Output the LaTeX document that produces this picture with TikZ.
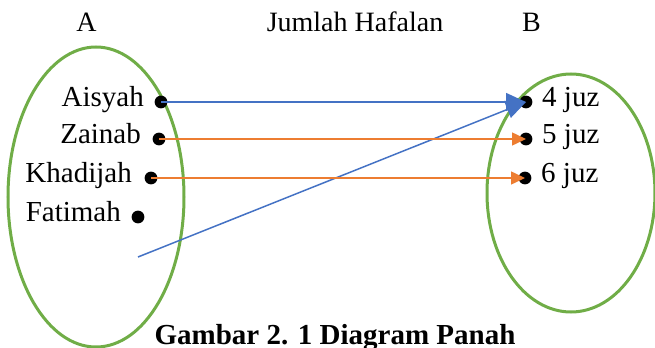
\documentclass[tikz,border=0pt]{standalone}
\usepackage{fontspec}
\setmainfont{Liberation Serif}
\usetikzlibrary{arrows.meta,positioning}
\definecolor{setgreen}{HTML}{70AD47}
\definecolor{arrowblue}{HTML}{4472C4}
\definecolor{arroworange}{HTML}{ED7D31}

\begin{document}
\begin{tikzpicture}[x=0.5pt, y=-0.5pt,
    font=\fontsize{14}{17}\selectfont,
    dot/.style={circle, fill=black, inner sep=0pt, minimum size=6.4pt},
    himpunan/.style={draw=setgreen, line width=1.5pt},
    nama/.style={inner sep=0pt, anchor=mid east, font=\fontsize{14.5}{17}\selectfont},
    juz/.style={inner sep=0pt, anchor=mid west, font=\fontsize{14.5}{17}\selectfont},
    panahbiru/.style={-{Triangle[length=10pt,width=9pt]}, arrowblue, line width=0.75pt},
    panahoranye/.style={-{Triangle[length=7pt,width=6.5pt]}, arroworange, line width=0.75pt}]
    \useasboundingbox (0,0) rectangle (655,348);

    \draw[himpunan] (96,197) ellipse (44pt and 75pt);
    \draw[himpunan] (571,193) ellipse (42pt and 59.5pt);

    \node[anchor=base] (setA) at (86.5,32) {A};
    \node[anchor=base] (judul) at (355,32) {Jumlah Hafalan};
    \node[anchor=base] (setB) at (531.5,32) {B};

    \node[dot] (a1) at (161,102) {};
    \node[dot] (a2) at (159,139) {};
    \node[dot] (a3) at (151,178) {};
    \node[dot] (a4) at (138,217) {};
    \node[left=5pt of a1, nama] (aisyah) {Aisyah};
    \node[left=5.5pt of a2, nama] (zainab) {Zainab};
    \node[left=6pt of a3, nama] (khadijah) {Khadijah};
    \node[left=5pt of a4, nama] (fatimah) {Fatimah};

    \node[dot] (b1) at (526,102) {};
    \node[dot] (b2) at (526,139) {};
    \node[dot] (b3) at (525,178) {};
    \node[right=4.5pt of b1, juz] (juz4) {4 juz};
    \node[right=4.5pt of b2, juz] (juz5) {5 juz};
    \node[right=4.5pt of b3, juz] (juz6) {6 juz};

    \coordinate (ujung) at (138,257);

    \draw[panahbiru] (a1.center) -- (b1.center);
    \draw[panahbiru] (ujung) -- (b1.center);
    \draw[panahoranye] (a2.center) -- (b2.center);
    \draw[panahoranye] (a3.center) -- (b3.center);

    \node[anchor=base, font=\fontsize{14.5}{17}\selectfont\bfseries] (caption) at (335,344) {Gambar 2. 1 Diagram Panah};
\end{tikzpicture}
\end{document}
